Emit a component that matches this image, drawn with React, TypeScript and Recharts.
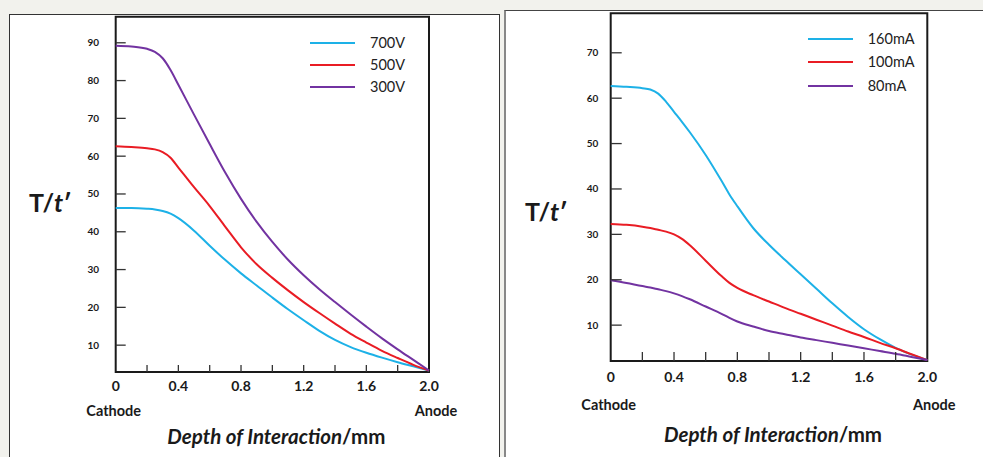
import React from 'react'
import { LineChart, Line, XAxis, YAxis, ReferenceArea, Legend } from 'recharts'

// left panel: bias voltage
const depthV = [0, 0.1, 0.2, 0.25, 0.3, 0.35, 0.4, 0.5, 0.6, 0.7, 0.8, 0.9, 1.0, 1.1, 1.2, 1.3, 1.4, 1.5, 1.6, 1.7, 1.8, 1.9, 2.0]
const v700 = [46.3, 46.3, 46.1, 45.9, 45.5, 44.8, 43.6, 40.3, 36.3, 32.5, 29.0, 25.8, 22.6, 19.5, 16.6, 13.8, 11.4, 9.5, 8.0, 6.7, 5.5, 4.4, 3.3]
const v500 = [62.6, 62.4, 62.1, 61.8, 61.1, 59.6, 57.0, 51.8, 46.8, 41.3, 35.9, 31.4, 27.8, 24.5, 21.4, 18.5, 15.7, 13.0, 10.7, 8.5, 6.6, 4.8, 3.3]
const v300 = [89.2, 89.0, 88.4, 87.6, 85.9, 82.8, 78.9, 71.0, 63.2, 55.6, 48.7, 42.6, 37.3, 32.6, 28.5, 24.8, 21.4, 18.1, 14.9, 11.8, 8.9, 6.1, 3.3]

// right panel: tube current
const depthI = [0, 0.1, 0.2, 0.25, 0.3, 0.35, 0.4, 0.45, 0.5, 0.6, 0.7, 0.75, 0.8, 0.9, 1.0, 1.1, 1.2, 1.3, 1.4, 1.5, 1.6, 1.7, 1.8, 1.9, 2.0]
const i160 = [62.7, 62.5, 62.2, 61.9, 61.0, 59.2, 57.0, 54.8, 52.5, 47.5, 41.8, 38.8, 36.2, 31.4, 27.7, 24.4, 21.2, 18.0, 14.8, 11.8, 9.1, 6.9, 5.0, 3.5, 2.3]
const i100 = [32.3, 32.1, 31.7, 31.4, 31.0, 30.6, 30.0, 29.0, 27.6, 24.2, 20.8, 19.3, 18.2, 16.6, 15.2, 13.8, 12.5, 11.2, 9.9, 8.6, 7.4, 6.1, 4.9, 3.6, 2.3]
const i80 = [19.9, 19.3, 18.6, 18.3, 17.9, 17.5, 17.0, 16.4, 15.7, 14.1, 12.5, 11.6, 10.8, 9.7, 8.7, 8.0, 7.3, 6.7, 6.1, 5.5, 4.9, 4.3, 3.7, 3.0, 2.3]

const xTicks = [0, 0.2, 0.4, 0.6, 0.8, 1.0, 1.2, 1.4, 1.6, 1.8, 2.0]
const yTicksV = [10, 20, 30, 40, 50, 60, 70, 80, 90]
const yTicksI = [10, 20, 30, 40, 50, 60, 70]
const voltageNames = ['700V', '500V', '300V']
const currentNames = ['160mA', '100mA', '80mA']
const lineColors = ['#1db1e7', '#e91c24', '#7233a1']

const font = 'Lato, "Open Sans", sans-serif'
const ink = '#1a1a1a'

const makeRows = (xs: number[], a: number[], b: number[], c: number[]) =>
  xs.map((x, i) => ({ x, a: a[i], b: b[i], c: c[i] }))

const leftRows = makeRows(depthV, v700, v500, v300)
const rightRows = makeRows(depthI, i160, i100, i80)

const makeXTick = (len: number, labelDy: number) => (props: any) => {
  const { x, y, payload } = props
  const v = payload.value
  const labeled = Math.round(v * 10) % 4 === 0
  const edge = v === 0 || v === 2
  return (
    <g>
      {!edge && <line x1={x} y1={y} x2={x} y2={y - len} stroke="#333" strokeWidth={1.3} />}
      {labeled && (
        <text x={x} y={y + labelDy} textAnchor="middle" fontSize={14} fontWeight={700} fontFamily={font} fill={ink}>
          {v === 0 ? '0' : v.toFixed(1)}
        </text>
      )}
    </g>
  )
}

const makeYTick = (len: number, gap: number) => (props: any) => {
  const { x, y, payload } = props
  return (
    <g>
      <line x1={x} y1={y} x2={x + len} y2={y} stroke="#333" strokeWidth={1.3} />
      <text x={x - gap} y={y} dy="0.35em" textAnchor="end" fontSize={10} fontWeight={700} fontFamily={font} fill={ink}>
        {payload.value}
      </text>
    </g>
  )
}

const makeLegend = (rowH: number, names: string[]) => (props: any) => {
  const items = [...(props.payload || [])].sort((m: any, n: any) => names.indexOf(m.value) - names.indexOf(n.value))
  return (
    <div>
      {items.map((p: any) => (
        <div key={p.value} style={{ display: 'flex', alignItems: 'center', height: rowH }}>
          <div style={{ width: 45, height: 2, background: p.color }} />
          <span style={{ marginLeft: 15, fontSize: 14.5, fontFamily: font, color: '#222', lineHeight: 1 }}>{p.value}</span>
        </div>
      ))}
    </div>
  )
}

interface PanelProps {
  rows: any[]
  names: string[]
  width: number
  margin: { top: number; right: number; bottom: number; left: number }
  domain: [number, number]
  yTicks: number[]
  xTickLen: number
  xLabelDy: number
  yTickLen: number
  yGap: number
  legendPos: { left: number; top: number }
  legendRow: number
  endsDy: number
  titleDy: number
  yLabel: { dx: number; y: number }
}

const Panel = (p: PanelProps) => {
  const xLabel = (props: any) => {
    const { x, y, width } = props.viewBox
    return (
      <g fontFamily={font} fill={ink}>
        <text x={x - 2} y={y + p.endsDy} textAnchor="middle" fontSize={14.5} fontWeight={700}>Cathode</text>
        <text x={x + width + 7} y={y + p.endsDy} textAnchor="middle" fontSize={14.5} fontWeight={700}>Anode</text>
        <text x={x + width / 2 + 4} y={y + p.titleDy} textAnchor="middle" fontSize={20.5} fontWeight={700}>
          <tspan fontStyle="italic">Depth of Interaction</tspan>
          <tspan>/mm</tspan>
        </text>
      </g>
    )
  }
  const yLabel = (props: any) => {
    const { x, width } = props.viewBox
    return (
      <text x={x + width - p.yLabel.dx} y={p.yLabel.y} textAnchor="end" fontSize={25} fontWeight={700} fontFamily={font} fill={ink}>
        T/<tspan fontStyle="italic">t</tspan>′
      </text>
    )
  }
  return (
    <LineChart width={p.width} height={457} data={p.rows} margin={p.margin}>
      <XAxis
        dataKey="x"
        type="number"
        domain={[0, 2]}
        ticks={xTicks}
        interval={0}
        height={40}
        axisLine={false}
        tickLine={false}
        tickSize={0}
        tickMargin={0}
        tick={makeXTick(p.xTickLen, p.xLabelDy)}
        label={{ content: xLabel }}
      />
      <YAxis
        type="number"
        domain={p.domain}
        ticks={p.yTicks}
        interval={0}
        width={60}
        axisLine={false}
        tickLine={false}
        tickSize={0}
        tickMargin={0}
        allowDataOverflow
        tick={makeYTick(p.yTickLen, p.yGap)}
        label={{ content: yLabel }}
      />
      <Legend
        layout="vertical"
        align="center"
        verticalAlign="middle"
        wrapperStyle={{ left: p.legendPos.left, top: p.legendPos.top, width: 'auto' }}
        content={makeLegend(p.legendRow, p.names)}
      />
      <Line dataKey="a" name={p.names[0]} type="monotone" stroke={lineColors[0]} strokeWidth={2} dot={false} isAnimationActive={false} />
      <Line dataKey="b" name={p.names[1]} type="monotone" stroke={lineColors[1]} strokeWidth={2} dot={false} isAnimationActive={false} />
      <Line dataKey="c" name={p.names[2]} type="monotone" stroke={lineColors[2]} strokeWidth={2} dot={false} isAnimationActive={false} />
      <ReferenceArea x1={0} x2={2} y1={p.domain[0]} y2={p.domain[1]} fill="none" stroke={ink} strokeWidth={2} ifOverflow="visible" />
    </LineChart>
  )
}

export default function App() {
  return (
    <div style={{ position: 'absolute', left: 0, top: 0, width: 983, height: 457, background: '#f2f2ed', overflow: 'hidden' }}>
      <div style={{ position: 'absolute', left: 9, top: 14, width: 489, height: 460, background: '#fff', border: '1px solid #333' }} />
      <div style={{ position: 'absolute', left: 504, top: 10, width: 490, height: 460, background: '#fff', borderTop: '1px solid #444', borderLeft: '2px solid #888' }} />
      <div style={{ position: 'absolute', left: 0, top: 0 }}>
        <Panel
          rows={leftRows}
          names={voltageNames}
          width={490}
          margin={{ top: 16.7, right: 61, bottom: 45, left: 55.7 }}
          domain={[2.9, 96.9]}
          yTicks={yTicksV}
          xTickLen={7}
          xLabelDy={18.7}
          yTickLen={10}
          yGap={16.7}
          legendPos={{ left: 310, top: 32 }}
          legendRow={22}
          endsDy={44}
          titleDy={72}
          yLabel={{ dx: 44, y: 212 }}
        />
      </div>
      <div style={{ position: 'absolute', left: 490, top: 0 }}>
        <Panel
          rows={rightRows}
          names={currentNames}
          width={493}
          margin={{ top: 13.3, right: 55.7, bottom: 56, left: 60.7 }}
          domain={[2.1, 78.7]}
          yTicks={yTicksI}
          xTickLen={9}
          xLabelDy={20.7}
          yTickLen={11}
          yGap={12.4}
          legendPos={{ left: 317.7, top: 27 }}
          legendRow={23.5}
          endsDy={49}
          titleDy={81}
          yLabel={{ dx: 43, y: 221 }}
        />
      </div>
    </div>
  )
}
